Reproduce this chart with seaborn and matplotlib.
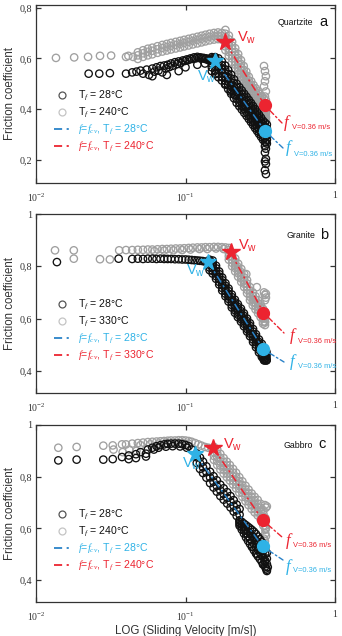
import numpy as np
import pandas as pd
import matplotlib
matplotlib.use("Agg")
import matplotlib.pyplot as plt
import seaborn as sns
from matplotlib.lines import Line2D

# ------------------------------------------------------------------ data
# ---- (a) Quartzite, Tf = 28 C
qa28_fv = [0.0225,0.0265,0.0312,0.040,0.044,0.047,0.050,0.052,0.055,0.057,
           0.060,0.062,0.064,0.066,0.068,0.070,0.072,0.074,0.076,0.078,
           0.080,0.082,0.085,0.088,0.090,0.093,0.096,0.099,0.102,0.105,
           0.108,0.111,0.114,0.117,0.120,0.123,0.126,0.129,0.132,0.135,
           0.138,0.141,0.144,0.147,0.060,0.075,0.090,0.100,0.120,0.135]
qa28_ff = [0.540,0.540,0.542,0.540,0.545,0.548,0.552,0.540,0.556,0.535,
           0.560,0.548,0.565,0.552,0.570,0.545,0.572,0.560,0.575,0.566,
           0.580,0.571,0.585,0.578,0.588,0.582,0.592,0.590,0.596,0.594,
           0.600,0.598,0.604,0.600,0.606,0.602,0.604,0.600,0.602,0.598,
           0.600,0.594,0.596,0.590,0.530,0.535,0.550,0.565,0.575,0.580]
qa28_dv = [0.150,0.158,0.166,0.175,0.184,0.193,0.202,0.211,0.220,0.229,0.238,0.247,
           0.256,0.265,0.274,0.283,0.292,0.301,0.310,0.320,0.330,0.340,0.350]
qa28_d1 = [0.605,0.605,0.600,0.588,0.572,0.554,0.536,0.518,0.500,0.487,0.474,0.461,
           0.449,0.437,0.425,0.413,0.401,0.390,0.379,0.367,0.355,0.347,0.340]
qa28_d2 = [0.600,0.598,0.586,0.573,0.557,0.539,0.521,0.503,0.485,0.472,0.459,0.446,
           0.434,0.422,0.410,0.398,0.386,0.375,0.364,0.352,0.340,0.332,0.325]
qa28_d3 = [0.595,0.583,0.571,0.558,0.542,0.524,0.506,0.488,0.470,0.457,0.444,0.431,
           0.419,0.407,0.395,0.383,0.371,0.360,0.349,0.337,0.325,0.317,0.310]
qa28_d4 = [0.580,0.568,0.556,0.543,0.527,0.509,0.491,0.473,0.455,0.442,0.429,0.416,
           0.404,0.392,0.380,0.368,0.356,0.345,0.334,0.322,0.310,0.302,0.295]
qa28_d5 = [0.565,0.553,0.541,0.528,0.512,0.494,0.476,0.458,0.440,0.427,0.414,0.401,
           0.389,0.377,0.365,0.353,0.341,0.330,0.319,0.307,0.295,0.287,0.280]
qa28_d6 = [0.550,0.538,0.526,0.513,0.497,0.479,0.461,0.443,0.425,0.412,0.399,0.386,
           0.374,0.362,0.350,0.338,0.326,0.315,0.304,0.292,0.280,0.272,0.265]
qa28_xv = [0.345,0.340,0.345,0.340,0.345,0.340,0.345,0.340,0.345,0.200,0.185,0.215,0.160,0.245]
qa28_xf = [0.270,0.255,0.245,0.230,0.205,0.195,0.185,0.160,0.145,0.470,0.500,0.455,0.540,0.410]

# ---- (a) Quartzite, Tf = 240 C
qa240_fv = [0.0136,0.018,0.0223,0.0268,0.0318,0.040,0.0446,0.0415]
qa240_ff = [0.602,0.604,0.606,0.610,0.611,0.606,0.606,0.610]
qa240_rv = [0.048,0.052,0.056,0.060,0.065,0.070,0.075,0.080,0.086,0.092,
            0.098,0.105,0.112,0.120,0.128,0.136,0.145,0.155,0.165,0.175]
qa240_r1 = [0.624,0.632,0.638,0.642,0.648,0.653,0.657,0.661,0.665,0.669,
            0.673,0.677,0.681,0.685,0.689,0.693,0.697,0.700,0.702,0.700]
qa240_r2 = [0.612,0.620,0.626,0.630,0.636,0.641,0.645,0.649,0.653,0.657,
            0.661,0.665,0.669,0.673,0.677,0.681,0.685,0.688,0.690,0.688]
qa240_r3 = [0.598,0.606,0.612,0.616,0.622,0.627,0.631,0.635,0.639,0.643,
            0.647,0.651,0.655,0.659,0.663,0.667,0.671,0.674,0.676,0.674]
qa240_dv = [0.185,0.195,0.205,0.215,0.225,0.235,0.245,0.255,0.265,0.275,
            0.285,0.295,0.305,0.315,0.325,0.335,0.345]
qa240_d0 = [0.712,0.690,0.665,0.640,0.617,0.593,0.570,0.548,0.528,0.510,
            0.495,0.482,0.470,0.460,0.450,0.440,0.435]
qa240_d1 = [0.697,0.675,0.650,0.625,0.602,0.578,0.555,0.533,0.513,0.495,
            0.480,0.467,0.455,0.445,0.435,0.425,0.420]
qa240_d2 = [0.684,0.662,0.637,0.612,0.589,0.565,0.542,0.520,0.500,0.482,
            0.467,0.454,0.442,0.432,0.422,0.412,0.407]
qa240_d3 = [0.672,0.650,0.625,0.600,0.577,0.553,0.530,0.508,0.488,0.470,
            0.455,0.442,0.430,0.420,0.410,0.400,0.395]
qa240_d4 = [0.660,0.638,0.613,0.588,0.565,0.541,0.518,0.496,0.476,0.458,
            0.443,0.430,0.418,0.408,0.398,0.388,0.383]
qa240_d5 = [0.647,0.625,0.600,0.575,0.552,0.528,0.505,0.483,0.463,0.445,
            0.430,0.417,0.405,0.395,0.385,0.375,0.370]
qa240_d6 = [0.632,0.610,0.585,0.560,0.537,0.513,0.490,0.468,0.448,0.430,
            0.415,0.402,0.390,0.380,0.370,0.360,0.355]
qa240_xv = [0.335,0.340,0.345,0.340,0.335,0.345,0.330,0.340,0.345,0.340]
qa240_xf = [0.570,0.550,0.530,0.510,0.490,0.470,0.370,0.360,0.365,0.450]

# ---- (b) Granite, Tf = 28 C
gb28_fv = [0.0138,0.0357,0.044,0.048,0.052,0.056,0.060,0.064,0.068,0.072,0.076,0.080,
           0.085,0.090,0.095,0.100,0.105,0.110,0.115,0.120,0.125,0.130,0.135,0.140]
gb28_ff = [0.816,0.829,0.828,0.829,0.828,0.829,0.829,0.828,0.829,0.828,0.828,0.828,
           0.827,0.827,0.826,0.826,0.825,0.824,0.823,0.822,0.821,0.820,0.818,0.816]
gb28_dv = [0.145,0.152,0.160,0.168,0.176,0.185,0.194,0.204,0.214,0.224,
           0.235,0.246,0.258,0.270,0.283,0.296,0.310,0.324,0.338,0.348]
gb28_d1 = [0.825,0.822,0.802,0.780,0.757,0.735,0.715,0.692,0.672,0.655,
           0.638,0.620,0.600,0.582,0.560,0.540,0.520,0.503,0.485,0.472]
gb28_d2 = [0.820,0.812,0.792,0.770,0.747,0.725,0.705,0.682,0.662,0.645,
           0.628,0.610,0.590,0.572,0.550,0.530,0.510,0.493,0.475,0.462]
gb28_d3 = [0.815,0.802,0.782,0.760,0.737,0.715,0.695,0.672,0.652,0.635,
           0.618,0.600,0.580,0.562,0.540,0.520,0.500,0.483,0.465,0.452]
gb28_d4 = [0.805,0.792,0.772,0.750,0.727,0.705,0.685,0.662,0.642,0.625,
           0.608,0.590,0.570,0.552,0.530,0.510,0.490,0.473,0.455,0.442]
gb28_d5 = [0.795,0.782,0.762,0.740,0.717,0.695,0.675,0.652,0.632,0.615,
           0.598,0.580,0.560,0.542,0.520,0.500,0.480,0.463,0.445,0.440]
gb28_d6 = [0.785,0.772,0.752,0.730,0.707,0.685,0.665,0.642,0.622,0.605,
           0.588,0.570,0.550,0.532,0.510,0.490,0.470,0.453,0.440,0.440]
gb28_xv = [0.340,0.345,0.335,0.345,0.330]
gb28_xf = [0.445,0.450,0.440,0.460,0.450]

# ---- (b) Granite, Tf = 330 C
gb330_fv = [0.0134,0.0179,0.0179,0.0268,0.0312,
            0.036,0.040,0.044,0.048,0.052,0.056,0.060,0.065,0.070,0.075,0.080,0.086,
            0.092,0.098,0.105,0.112,0.120,0.128,0.136,0.145,0.155,0.165,0.175,0.185,
            0.062,0.072,0.083,0.095,0.108,0.124,0.140,0.160,0.180]
gb330_ff = [0.861,0.861,0.829,0.827,0.826,
            0.861,0.862,0.862,0.863,0.863,0.864,0.864,0.865,0.866,0.866,0.867,0.868,
            0.868,0.869,0.870,0.871,0.872,0.872,0.873,0.873,0.874,0.874,0.873,0.872,
            0.858,0.860,0.861,0.862,0.864,0.866,0.866,0.868,0.866]
gb330_dv = [0.195,0.205,0.215,0.225,0.236,0.247,0.258,0.270,0.282,0.294,0.306,0.318,0.330,0.340]
gb330_d1 = [0.870,0.850,0.830,0.810,0.790,0.770,0.747,0.720,0.700,0.685,0.670,0.655,0.637,0.625]
gb330_d2 = [0.862,0.837,0.817,0.797,0.777,0.757,0.734,0.707,0.687,0.672,0.657,0.642,0.624,0.612]
gb330_d3 = [0.850,0.825,0.805,0.785,0.765,0.745,0.722,0.695,0.675,0.660,0.645,0.630,0.612,0.600]
gb330_d4 = [0.838,0.813,0.793,0.773,0.753,0.733,0.710,0.683,0.663,0.648,0.633,0.618,0.600,0.588]
gb330_d5 = [0.825,0.800,0.780,0.760,0.740,0.720,0.697,0.670,0.650,0.635,0.620,0.605,0.587,0.575]
gb330_xv = [0.335,0.340,0.345,0.345,0.340,0.330,0.340,0.300,0.255]
gb330_xf = [0.700,0.690,0.695,0.680,0.670,0.580,0.585,0.720,0.770]

# ---- (c) Gabbro, Tf = 28 C
gc28_fv = [0.0141,0.0187,0.0282,0.0326,0.0376,0.0417,0.0466,0.0417,0.0466,0.0544,0.0544,0.0615,0.050,
           0.056,0.060,0.064,0.068,0.072,0.076,0.080,0.085,0.090,0.095,0.100,0.105,0.110,
           0.066,0.074,0.082,0.092,0.102]
gc28_ff = [0.863,0.866,0.866,0.868,0.876,0.882,0.887,0.868,0.872,0.889,0.878,0.905,0.895,
           0.905,0.912,0.918,0.922,0.925,0.927,0.928,0.928,0.928,0.926,0.923,0.918,0.905,
           0.912,0.916,0.918,0.917,0.912]
gc28_dv = [0.119,0.125,0.131,0.138,0.146,0.154,0.162,0.171,0.180,0.190,0.200,0.210,0.220,0.230]
gc28_d1 = [0.890,0.874,0.858,0.840,0.819,0.802,0.786,0.769,0.755,0.740,0.725,0.709,0.692,0.675]
gc28_d2 = [0.875,0.852,0.836,0.818,0.797,0.780,0.764,0.747,0.733,0.718,0.703,0.687,0.670,0.653]
gc28_d3 = [0.853,0.830,0.814,0.796,0.775,0.758,0.742,0.725,0.711,0.696,0.681,0.665,0.648,0.631]
gc28_sv = [0.230,0.238,0.246,0.254,0.262,0.270,0.278,0.287,0.296,0.305,0.314,0.323,0.332,0.341,0.350]
gc28_s1 = [0.630,0.625,0.618,0.612,0.606,0.600,0.594,0.587,0.578,0.568,0.558,0.548,0.538,0.525,0.505]
gc28_s2 = [0.623,0.615,0.605,0.596,0.588,0.580,0.572,0.563,0.553,0.543,0.533,0.523,0.513,0.501,0.483]
gc28_s3 = [0.617,0.605,0.593,0.581,0.570,0.560,0.550,0.539,0.528,0.517,0.507,0.497,0.487,0.476,0.462]
gc28_s4 = [0.610,0.595,0.580,0.565,0.552,0.540,0.528,0.515,0.503,0.492,0.482,0.472,0.462,0.452,0.440]
gc28_xv = [0.345,0.350,0.355,0.340,0.330,0.300,0.280]
gc28_xf = [0.445,0.435,0.450,0.470,0.460,0.500,0.530]

# ---- (c) Gabbro, Tf = 240 C
gc240_fv = [0.0141,0.0187,0.0282,0.0326,0.0376,0.033,0.038,0.042,0.047,
            0.040,0.044,0.048,0.052,0.056,0.060,0.064,0.068,0.072,0.076,0.080,0.085,
            0.090,0.095,0.100,0.105,0.110,0.116,0.122,0.128,0.135,0.142,0.150,
            0.050,0.058,0.066,0.075,0.085,0.095,0.105]
gc240_ff = [0.912,0.915,0.920,0.921,0.925,0.905,0.895,0.905,0.900,
            0.925,0.928,0.930,0.932,0.934,0.935,0.936,0.937,0.938,0.939,0.940,0.940,
            0.941,0.941,0.940,0.938,0.935,0.930,0.925,0.920,0.915,0.912,0.910,
            0.922,0.925,0.928,0.930,0.931,0.931,0.928]
gc240_dv = [0.155,0.163,0.171,0.180,0.189,0.198,0.208,0.218,0.229,
            0.240,0.252,0.264,0.277,0.290,0.304,0.318,0.332,0.342]
gc240_d1 = [0.915,0.905,0.888,0.872,0.858,0.845,0.830,0.815,0.798,
            0.782,0.765,0.750,0.735,0.722,0.710,0.695,0.670,0.640]
gc240_d2 = [0.910,0.890,0.873,0.857,0.843,0.830,0.815,0.800,0.783,
            0.767,0.750,0.735,0.720,0.707,0.695,0.680,0.655,0.625]
gc240_d3 = [0.895,0.875,0.858,0.842,0.828,0.815,0.800,0.785,0.768,
            0.752,0.735,0.720,0.705,0.692,0.680,0.665,0.640,0.610]
gc240_d4 = [0.880,0.860,0.843,0.827,0.813,0.800,0.785,0.770,0.753,
            0.737,0.720,0.705,0.690,0.677,0.665,0.650,0.625,0.595]
gc240_d5 = [0.865,0.845,0.828,0.812,0.798,0.785,0.770,0.755,0.738,
            0.722,0.705,0.690,0.675,0.662,0.650,0.635,0.610,0.580]
gc240_xv = [0.335,0.340,0.345,0.340,0.345,0.350,0.345]
gc240_xf = [0.560,0.550,0.570,0.690,0.680,0.685,0.600]

# ---- key points (weakening velocity Vw and friction at V = 0.36 m/s)
rocks = ["Quartzite", "Granite", "Gabbro"]
panel_letters = ["a", "b", "c"]
hot_temps = [240, 330, 240]
vw_v_cold = [0.157, 0.142, 0.116]
vw_f_cold = [0.591, 0.816, 0.886]
vw_v_hot = [0.184, 0.200, 0.153]
vw_f_hot = [0.663, 0.853, 0.912]
vend_v = [0.340, 0.332, 0.328]
vend_f_cold = [0.315, 0.482, 0.530]
vend_f_hot = [0.415, 0.623, 0.632]

y_ticks = [[0.2, 0.4, 0.6, 0.8], [0.4, 0.6, 0.8, 1.0], [0.4, 0.6, 0.8, 1.0]]
y_ticklabels = [["0,2", "0,4", "0,6", "0,8"], ["0,4", "0,6", "0,8", "1"], ["0,4", "0,6", "0,8", "1"]]
y_limits = [(0.11, 0.81), (0.315, 1.0), (0.315, 1.0)]
x_ticks = [0.01, 0.1, 1.0]
x_ticklabels = [r"10$^{\mathregular{-2}}$", r"10$^{\mathregular{-1}}$", "1"]


def cat(*parts):
    return list(np.concatenate([np.asarray(p, float) for p in parts]))


def build(v_parts, f_parts):
    return pd.DataFrame({"v": cat(*v_parts), "f": cat(*f_parts)})


df_cold = [
    build([qa28_fv] + [qa28_dv] * 6 + [qa28_xv],
          [qa28_ff, qa28_d1, qa28_d2, qa28_d3, qa28_d4, qa28_d5, qa28_d6, qa28_xf]),
    build([gb28_fv] + [gb28_dv] * 6 + [gb28_xv],
          [gb28_ff, gb28_d1, gb28_d2, gb28_d3, gb28_d4, gb28_d5, gb28_d6, gb28_xf]),
    build([gc28_fv] + [gc28_dv] * 3 + [gc28_sv] * 4 + [gc28_xv],
          [gc28_ff, gc28_d1, gc28_d2, gc28_d3, gc28_s1, gc28_s2, gc28_s3, gc28_s4, gc28_xf]),
]
df_hot = [
    build([qa240_fv] + [qa240_rv] * 3 + [qa240_dv] * 7 + [qa240_xv],
          [qa240_ff, qa240_r1, qa240_r2, qa240_r3, qa240_d0, qa240_d1, qa240_d2, qa240_d3,
           qa240_d4, qa240_d5, qa240_d6, qa240_xf]),
    build([gb330_fv] + [gb330_dv] * 5 + [gb330_xv],
          [gb330_ff, gb330_d1, gb330_d2, gb330_d3, gb330_d4, gb330_d5, gb330_xf]),
    build([gc240_fv] + [gc240_dv] * 5 + [gc240_xv],
          [gc240_ff, gc240_d1, gc240_d2, gc240_d3, gc240_d4, gc240_d5, gc240_xf]),
]

# ------------------------------------------------------------------ style
sns.set_style("ticks")
plt.rcParams["font.family"] = ["Liberation Sans", "DejaVu Sans"]
plt.rcParams["mathtext.fontset"] = "custom"
plt.rcParams["mathtext.rm"] = "Liberation Sans"
plt.rcParams["mathtext.sf"] = "Liberation Sans"
plt.rcParams["mathtext.it"] = "Liberation Serif:italic"

C_BLUE_LINE = "#2a82c8"
C_BLUE = "#2fb2e6"
C_RED = "#ec2430"
C_GRAY = "#a0a0a0"
C_AX = "#333333"
DASH = (0, (5, 2.2, 1.4, 2.2))

W, H = 342, 636
fig = plt.figure(figsize=(W / 100, H / 100), dpi=100)
ax_px = [(5, 183), (214, 393), (425, 602)]
axes = []
for top, bot in ax_px:
    axes.append(fig.add_axes([36 / W, 1 - bot / H, 299 / W, (bot - top) / H]))

# label positions (figure pixels, from top-left) for the f_V annotations
fl_red = [(283, 122.7, 291.5, 127.7), (289, 336, 297.5, 341), (285, 540.7, 293, 545.3)]
fl_blue = [(285, 148.3, 293.5, 154.3), (289, 361.7, 297.5, 366.7), (285, 566.7, 293, 570.7)]
lead_red = [(282, 123), (284, 333), (282, 537)]
lead_blue = [(283, 148), (284, 362), (283, 560)]
vw_off_red = [(12, 4), (7, 6), (10, 3)]
vw_off_blue = [(-18, -16), (-22, -9), (-13, -9)]
name_pos = [(0.926, 0.90, 0.947), (0.933, 0.88, 0.95), (0.926, 0.887, 0.943)]

for i, ax in enumerate(axes):
    sns.scatterplot(data=df_hot[i], x="v", y="f", ax=ax, marker="o", s=28,
                    facecolors="none", edgecolor=C_GRAY, linewidth=0.95, zorder=2)
    sns.scatterplot(data=df_cold[i], x="v", y="f", ax=ax, marker="o", s=28,
                    facecolors="none", edgecolor="#111111", linewidth=0.95, zorder=3)
    # f = f_cv dashed lines from Vw to V=0.36 m/s
    ax.plot([vw_v_cold[i], vend_v[i]], [vw_f_cold[i], vend_f_cold[i]],
            color=C_BLUE_LINE, lw=1.1, ls=DASH, zorder=4)
    ax.plot([vw_v_hot[i], vend_v[i]], [vw_f_hot[i], vend_f_hot[i]],
            color=C_RED, lw=1.1, ls=DASH, zorder=4)
    # stars at Vw
    ax.plot([vw_v_hot[i]], [vw_f_hot[i]], marker="*", ms=13, color=C_RED, mec=C_RED, zorder=6)
    ax.plot([vw_v_cold[i]], [vw_f_cold[i]], marker="*", ms=12, color=C_BLUE, mec=C_BLUE, zorder=6)
    # circles at V = 0.36 m/s
    ax.plot([vend_v[i]], [vend_f_hot[i]], marker="o", ms=8.5, color=C_RED, mec=C_RED, zorder=6)
    ax.plot([vend_v[i]], [vend_f_cold[i]], marker="o", ms=8.5, color=C_BLUE, mec=C_BLUE, zorder=6)

    # Vw labels
    ax.annotate(r"V$_\mathsf{w}$", xy=(vw_v_hot[i], vw_f_hot[i]), xytext=vw_off_red[i],
                textcoords="offset pixels", ha="left", va="center", color=C_RED, fontsize=10.5, zorder=7)
    ax.annotate(r"V$_\mathsf{w}$", xy=(vw_v_cold[i], vw_f_cold[i]), xytext=vw_off_blue[i],
                textcoords="offset pixels", ha="left", va="center", color=C_BLUE, fontsize=10.5, zorder=7)

    # leader lines to f_V labels
    ax.annotate("", xy=(lead_red[i][0], H - lead_red[i][1]), xycoords="figure pixels",
                xytext=(vend_v[i], vend_f_hot[i]), textcoords="data",
                arrowprops=dict(arrowstyle="-", color=C_RED, lw=1.0, ls=(0, (4, 2, 1.2, 2)),
                                shrinkA=5, shrinkB=0), annotation_clip=False)
    ax.annotate("", xy=(lead_blue[i][0], H - lead_blue[i][1]), xycoords="figure pixels",
                xytext=(vend_v[i], vend_f_cold[i]), textcoords="data",
                arrowprops=dict(arrowstyle="-", color=C_BLUE_LINE, lw=1.0, ls=(0, (4, 2, 1.2, 2)),
                                shrinkA=5, shrinkB=0), annotation_clip=False)
    for (fx, fy, sx, sy), col in ((fl_red[i], C_RED), (fl_blue[i], C_BLUE)):
        fig.text(fx / W, 1 - fy / H, r"$f$", color=col, fontsize=12, ha="left", va="center")
        fig.text(sx / W, 1 - sy / H, "V=0.36 m/s", color=col, fontsize=5.4, ha="left", va="center")

    # rock name and panel letter
    nx, ny, lx = name_pos[i]
    ax.text(nx, ny, rocks[i], transform=ax.transAxes, ha="right", va="center",
            fontsize=6.3, color="#111111")
    ax.text(lx, ny + 0.005, panel_letters[i], transform=ax.transAxes, ha="left", va="center",
            fontsize=10.5, color="#111111")

    # legend
    handles = [
        Line2D([], [], ls="none", marker="o", ms=5, mfc="none", mec="#555555", mew=0.9),
        Line2D([], [], ls="none", marker="o", ms=5, mfc="none", mec="#c4c4c4", mew=0.9),
        Line2D([], [], color=C_BLUE_LINE, lw=1.3, ls=(0, (4.5, 2.5, 1.2, 3))),
        Line2D([], [], color=C_RED, lw=1.3, ls=(0, (4.5, 2.5, 1.2, 3))),
    ]
    labels = [r"T$_f$ = 28°C", r"T$_f$ = %d°C" % hot_temps[i],
              r"$f$=$f_{cv}$, T$_f$ = 28°C", r"$f$=$f_{cv}$, T$_f$ = %d°C" % hot_temps[i]]
    ax.legend(handles, labels, loc="upper left", bbox_to_anchor=(0.06, 0.53),
              frameon=False, fontsize=7.6, handlelength=1.6, handletextpad=0.7,
              labelspacing=0.28, borderpad=0, borderaxespad=0,
              labelcolor=["#111111", "#111111", C_BLUE, C_RED])

    # axes formatting
    ax.set_xscale("log")
    ax.set_xlim(0.01, 1.0)
    ax.set_ylim(*y_limits[i])
    ax.set_xticks(x_ticks)
    ax.set_xticklabels(x_ticklabels, family="Liberation Serif", fontsize=7, color=C_AX)
    ax.xaxis.set_minor_locator(matplotlib.ticker.NullLocator())
    ax.set_yticks(y_ticks[i])
    ax.set_yticklabels(y_ticklabels[i], family="Liberation Serif", fontsize=7.3, color=C_AX)
    ax.tick_params(axis="both", which="both", direction="in", top=True, right=True,
                   length=3.5, width=0.9, color=C_AX)
    ax.tick_params(axis="x", pad=6)
    ax.tick_params(axis="y", pad=2.5)
    for sp in ax.spines.values():
        sp.set_visible(True)
        sp.set_color(C_AX)
        sp.set_linewidth(0.9)
    ax.set_ylabel("Friction coefficient", fontsize=8.3, color=C_AX)
    ax.yaxis.set_label_coords(-0.068, 0.5)
    ax.set_xlabel("")

axes[2].set_xlabel("LOG (Sliding Velocity [m/s])", fontsize=8.3, color=C_AX)
axes[2].xaxis.set_label_coords(0.5, -0.128)

fig.savefig("out.png", dpi=100)
